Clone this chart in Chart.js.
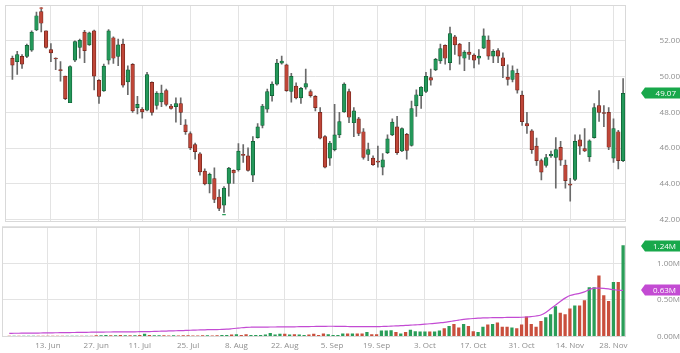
<!DOCTYPE html>
<html>
<head>
<meta charset="utf-8">
<script src="https://cdn.jsdelivr.net/npm/chart.js@4.4.1/dist/chart.umd.min.js"></script>
<style>
  html, body { margin: 0; padding: 0; background: #fff; }
  #wrap { position: relative; width: 680px; height: 353px; }
  canvas { position: absolute; left: 0; }
  #priceCanvas { top: 0; }
  #volCanvas { top: 226px; }
</style>
</head>
<body>
<div id="wrap">
  <canvas id="priceCanvas" width="680" height="227"></canvas>
  <canvas id="volCanvas" width="680" height="127"></canvas>
</div>
<script>
// ---- trading days (Jun 1 - Nov 30) ----
const junDays = [1,2,3,6,7,8,9,10,13,14,15,16,17,20,21,22,23,24,27,28,29,30];
const julDays = [1,5,6,7,8,11,12,13,14,15,18,19,20,21,22,25,26,27,28,29];
const augDays = [1,2,3,4,5,8,9,10,11,12,15,16,17,18,19,22,23,24,25,26,29,30,31];
const sepDays = [1,2,6,7,8,9,12,13,14,15,16,19,20,21,22,23,26,27,28,29,30];
const octDays = [3,4,5,6,7,10,11,12,13,14,17,18,19,20,21,24,25,26,27,28,31];
const novDays = [1,2,3,4,7,8,9,10,11,14,15,16,17,18,21,22,23,25,28,29,30];

// ---- axis ticks ----
const xTickPos = [8, 18, 27, 37, 47, 57, 66.8, 76, 86, 96, 106, 116, 125];
const xTickLabels = ['13. Jun','27. Jun','11. Jul','25. Jul','8. Aug','22. Aug','5. Sep','19. Sep','3. Oct','17. Oct','31. Oct','14. Nov','28. Nov'];
const priceTicks = [42, 44, 46, 48, 50, 52, 54];
const volTicks = [0, 0.5, 1.0, 1.5];

// ---- OHLC ----
const opens = [
  51.03,50.84,51.14,51.14,51.48,52.61,53.64,52.57,51.51,51.03,50.38,50.03,48.54,50.92,51.64,52.50,51.78,52.57,49.80,49.21,
  50.92,52.18,51.14,51.82,49.71,50.69,48.27,48.18,48.12,49.68,48.39,48.59,49.22,48.36,48.32,48.50,47.31,46.82,46.20,45.69,
  44.72,44.00,44.30,43.27,42.81,44.03,44.76,44.79,45.64,45.57,44.49,46.59,47.28,48.18,48.94,49.58,50.76,50.66,49.17,49.47,
  48.81,49.41,49.17,48.90,48.00,46.65,45.44,45.92,46.74,48.03,49.17,47.42,47.64,46.92,45.65,45.44,45.26,44.94,45.75,46.74,
  47.19,45.84,46.77,46.16,48.36,48.94,49.17,49.95,50.38,50.88,51.75,50.79,52.23,51.82,51.03,51.38,51.21,51.03,51.60,52.05,
  51.15,51.46,51.06,49.98,49.84,50.19,48.97,47.37,46.97,46.11,45.30,45.03,45.57,45.48,46.05,45.06,43.97,44.25,46.47,45.98,
  45.51,46.59,48.39,47.98,48.00,45.44,46.92,45.30
];
const highs = [
  51.15,51.42,51.24,51.82,52.56,53.62,53.87,52.57,51.85,51.06,50.84,50.03,50.61,52.00,52.11,52.59,52.50,52.61,49.84,50.70,
  52.63,52.23,52.11,52.11,50.61,50.74,48.90,48.27,50.25,49.71,49.17,49.53,49.30,48.45,48.81,48.81,47.60,46.92,46.29,45.75,
  44.84,44.61,44.90,43.68,43.85,44.93,44.79,46.25,46.20,46.02,46.65,47.37,48.45,49.30,49.71,50.97,51.15,50.70,50.19,49.65,
  49.41,50.43,49.26,48.94,48.27,46.70,46.38,48.45,48.00,49.65,49.30,48.27,47.73,47.10,46.29,45.57,46.11,45.70,46.74,47.64,
  47.78,47.14,46.83,48.63,49.26,49.44,50.25,50.43,51.03,51.82,51.78,52.77,52.32,51.87,51.46,51.92,51.28,51.51,52.68,52.29,
  51.51,51.57,51.33,50.66,50.61,50.43,49.20,48.00,47.04,46.56,45.39,45.66,45.84,46.59,46.38,45.33,44.31,46.74,46.74,47.10,
  46.47,48.50,49.22,48.39,48.27,47.64,47.00,49.90
];
const lows = [
  49.85,50.12,50.46,51.06,51.42,52.57,52.50,51.60,50.84,50.39,49.75,48.72,48.54,50.84,51.03,50.79,51.75,49.26,48.50,49.17,
  50.70,50.74,50.61,49.41,48.99,48.00,47.91,47.68,48.09,47.85,48.18,48.32,48.36,48.18,47.46,47.31,46.77,45.92,45.38,44.49,
  43.95,43.49,42.95,42.50,42.41,43.31,44.03,44.72,45.20,44.72,44.12,46.56,47.14,48.00,48.63,49.53,50.70,49.17,48.57,48.76,
  48.50,49.30,48.86,48.09,46.52,44.90,45.03,45.84,46.59,48.00,47.42,46.65,46.70,45.38,45.30,45.03,44.93,44.50,45.69,46.70,
  45.65,45.80,45.38,46.11,47.78,48.22,49.11,49.53,50.34,50.74,50.70,50.38,51.24,50.70,50.34,50.97,50.49,50.70,51.57,50.97,
  50.79,50.79,49.95,49.53,49.71,49.08,47.28,46.83,45.70,45.03,44.22,44.94,45.48,43.76,45.03,43.76,43.04,44.18,45.65,45.80,
  45.26,46.56,47.49,47.20,45.92,45.20,44.84,45.24
];
const closes = [
  50.65,51.24,50.70,51.75,52.50,53.41,52.99,51.64,51.33,50.99,50.34,48.77,50.56,51.96,52.03,51.46,52.45,50.03,48.90,50.59,
  52.57,51.03,51.78,49.53,50.38,48.09,48.45,48.03,50.12,48.00,49.08,49.08,48.45,48.22,48.50,48.00,46.92,46.01,45.80,44.67,
  44.00,44.54,43.13,42.63,43.76,44.88,44.61,45.84,45.60,44.76,46.38,47.19,48.36,49.17,49.58,50.76,50.88,49.22,50.02,48.81,
  49.35,49.62,48.94,48.27,46.56,44.94,46.29,46.74,47.49,49.58,47.73,48.09,46.83,45.48,45.92,45.08,45.22,45.35,46.52,47.46,
  45.75,47.10,45.87,48.22,48.99,49.41,50.02,49.80,50.97,51.57,51.03,52.41,51.78,51.15,51.38,51.24,50.92,51.15,52.29,51.15,
  51.42,51.15,50.61,49.84,50.34,49.25,47.48,47.24,45.92,45.30,44.66,45.48,45.66,45.92,45.33,44.18,43.93,46.38,46.11,45.84,
  46.41,48.27,48.00,47.94,46.05,47.10,45.30,49.07
];

// period high / low markers
const markerIdx = [6, 44];
const markerVal = [53.84, 42.28];
const markerColor = ['#c9503f', '#2a9d58'];

// ---- volume (millions) and its moving average ----
const volumes = [
  0.006,0.006,0.006,0.006,0.006,0.006,0.006,0.006,0.006,0.006,0.006,0.006,0.006,0.006,0.006,0.006,0.006,0.006,0.015,0.015,
  0.020,0.015,0.015,0.020,0.015,0.015,0.015,0.020,0.035,0.020,0.015,0.015,0.015,0.012,0.015,0.012,0.015,0.015,0.012,0.012,
  0.015,0.015,0.012,0.015,0.020,0.020,0.025,0.030,0.020,0.030,0.020,0.020,0.020,0.025,0.045,0.025,0.035,0.035,0.025,0.030,
  0.025,0.020,0.025,0.035,0.020,0.040,0.030,0.020,0.020,0.040,0.040,0.040,0.040,0.040,0.060,0.030,0.030,0.080,0.080,0.085,
  0.060,0.040,0.060,0.090,0.070,0.065,0.065,0.065,0.065,0.080,0.110,0.140,0.170,0.120,0.170,0.140,0.070,0.060,0.130,0.160,
  0.170,0.190,0.130,0.130,0.120,0.110,0.160,0.270,0.170,0.130,0.210,0.260,0.300,0.410,0.320,0.300,0.380,0.420,0.420,0.490,
  0.670,0.670,0.830,0.560,0.480,0.740,0.740,1.240
];
const volumeMA = [
  0.046,0.047,0.047,0.048,0.048,0.049,0.050,0.051,0.052,0.053,0.054,0.055,0.056,0.057,0.058,0.059,0.060,0.061,0.062,0.063,
  0.064,0.064,0.065,0.066,0.066,0.067,0.067,0.068,0.069,0.070,0.072,0.074,0.076,0.078,0.080,0.082,0.084,0.087,0.089,0.091,
  0.093,0.095,0.096,0.097,0.099,0.102,0.108,0.115,0.122,0.127,0.129,0.130,0.131,0.131,0.132,0.132,0.133,0.133,0.134,0.135,
  0.136,0.137,0.138,0.139,0.140,0.141,0.142,0.142,0.141,0.140,0.139,0.138,0.138,0.137,0.137,0.137,0.137,0.139,0.141,0.144,
  0.147,0.150,0.153,0.157,0.161,0.165,0.170,0.176,0.182,0.189,0.196,0.205,0.215,0.226,0.236,0.243,0.248,0.252,0.255,0.257,
  0.259,0.260,0.261,0.262,0.263,0.264,0.265,0.268,0.274,0.282,0.296,0.330,0.380,0.430,0.480,0.525,0.560,0.578,0.590,0.610,
  0.640,0.660,0.662,0.658,0.650,0.640,0.632,0.630
];

const dates = [];
[[6, junDays], [7, julDays], [8, augDays], [9, sepDays], [10, octDays], [11, novDays]].forEach(([m, days]) => {
  days.forEach(d => dates.push(`2022-${String(m).padStart(2, '0')}-${String(d).padStart(2, '0')}`));
});

const UP = '#24985a', UP_EDGE = '#0f5a31';
const DOWN = '#bf4638', DOWN_EDGE = '#6d2219';
const VOL_UP = '#2a9d58', VOL_DOWN = '#c94f3d';
const MA_COLOR = '#c34bd3';
const GRID = '#e3e3e3';
const FONT = { family: "'Open Sans', sans-serif", size: 8 };
const LABEL_COLOR = '#8e8e8e';

const isUp = dates.map((_, i) => closes[i] >= opens[i]);

// width of a label, so the y labels can sit right-aligned at the edge
function textWidth(str) {
  const c = document.createElement('canvas').getContext('2d');
  c.font = `${FONT.size}px ${FONT.family}`;
  return c.measureText(str).width;
}
const AXIS_W = 54;

// panel frame + value tags on the right
const framePlugin = {
  id: 'frame',
  afterDraw(chart, args, opts) {
    const { ctx, chartArea: a } = chart;
    ctx.save();
    ctx.strokeStyle = '#d9d9d9';
    ctx.lineWidth = 1;
    ctx.strokeRect(Math.round(a.left) + 0.5, Math.round(a.top) + 0.5, Math.round(a.right - a.left) - 1, Math.round(a.bottom - a.top) - 1);
    const y = chart.scales.y;
    (opts.tags || []).forEach(t => {
      const py = Math.round(y.getPixelForValue(t.value));
      const x0 = a.right + 15, x1 = chart.width, h = 5.5;
      ctx.fillStyle = t.color;
      ctx.beginPath();
      ctx.moveTo(x0, py);
      ctx.lineTo(x0 + 4, py - h);
      ctx.lineTo(x1, py - h);
      ctx.lineTo(x1, py + h);
      ctx.lineTo(x0 + 4, py + h);
      ctx.closePath();
      ctx.fill();
      ctx.fillStyle = '#fff';
      ctx.font = `${FONT.size}px ${FONT.family}`;
      ctx.textAlign = 'right';
      ctx.textBaseline = 'middle';
      ctx.fillText(t.text, x1 - 4, py + 0.5);
    });
    ctx.restore();
  }
};

function xScale(showLabels) {
  return {
    type: 'linear',
    min: -1.5,
    max: 127.6,
    offset: false,
    afterBuildTicks: s => { s.ticks = xTickPos.map(v => ({ value: v })); },
    afterFit: s => { s.height = showLabels ? 16.3 : 0; s.paddingLeft = 0; s.paddingRight = 0; },
    grid: { color: GRID, drawTicks: false, offset: false },
    border: { display: false },
    ticks: {
      display: showLabels,
      autoSkip: false,
      maxRotation: 0,
      padding: 4,
      color: LABEL_COLOR,
      font: FONT,
      callback: (v, i) => xTickLabels[i]
    }
  };
}

function yFit(s) {
  s.width = AXIS_W;
  s.paddingTop = 0;
  s.paddingBottom = 0;
}

// ---------------- price chart ----------------
const priceLabelW = textWidth('52.00');
new Chart(document.getElementById('priceCanvas'), {
  type: 'bar',
  data: {
    datasets: [
      {
        type: 'scatter',
        label: 'High/Low',
        data: markerIdx.map((x, k) => ({ x: x, y: markerVal[k] })),
        pointStyle: 'line',
        pointRadius: 1.8,
        borderWidth: 1.2,
        borderColor: markerColor,
        order: 0
      },
      {
        label: 'Wick',
        data: dates.map((d, i) => ({ x: i, y: [lows[i], highs[i]] })),
        backgroundColor: '#6a6a6a',
        barThickness: 1,
        grouped: false,
        order: 2
      },
      {
        label: 'Body',
        data: dates.map((d, i) => ({ x: i, y: [opens[i], closes[i]] })),
        backgroundColor: isUp.map(u => u ? UP : DOWN),
        borderColor: isUp.map(u => u ? UP_EDGE : DOWN_EDGE),
        borderWidth: 0.7,
        borderSkipped: false,
        barThickness: 3.6,
        minBarLength: 1,
        grouped: false,
        order: 1
      }
    ]
  },
  options: {
    responsive: false,
    animation: false,
    devicePixelRatio: 1,
    layout: { padding: { top: 2, left: 2, right: 0, bottom: 0.5 } },
    plugins: {
      legend: { display: false },
      tooltip: { enabled: false },
      frame: { tags: [{ value: closes[closes.length - 1], text: closes[closes.length - 1].toFixed(2), color: '#18a84b' }] }
    },
    scales: {
      x: xScale(false),
      y: {
        position: 'right',
        min: 41.88,
        max: 54,
        afterBuildTicks: s => { s.ticks = priceTicks.map(v => ({ value: v })); },
        afterFit: yFit,
        grid: { color: GRID, drawTicks: false },
        border: { display: false },
        ticks: {
          crossAlign: 'far',
          padding: AXIS_W - 4 - priceLabelW,
          color: LABEL_COLOR,
          font: FONT,
          callback: v => v === 54 ? '' : v.toFixed(2)
        }
      }
    }
  },
  plugins: [framePlugin]
});

// ---------------- volume chart ----------------
const volLabelW = textWidth('0.00M');
const lastVol = volumes[volumes.length - 1];
const lastMA = volumeMA[volumeMA.length - 1];
new Chart(document.getElementById('volCanvas'), {
  type: 'bar',
  data: {
    datasets: [
      {
        type: 'line',
        label: 'Volume MA',
        data: dates.map((d, i) => ({ x: i, y: volumeMA[i] })),
        borderColor: MA_COLOR,
        borderWidth: 1.2,
        pointRadius: 0,
        tension: 0.3,
        order: 1
      },
      {
        label: 'Volume',
        data: dates.map((d, i) => ({ x: i, y: volumes[i] })),
        backgroundColor: isUp.map(u => u ? VOL_UP : VOL_DOWN),
        barThickness: 2.6,
        grouped: false,
        order: 2
      }
    ]
  },
  options: {
    responsive: false,
    animation: false,
    devicePixelRatio: 1,
    layout: { padding: { top: 0.5, left: 2, right: 0, bottom: 0 } },
    plugins: {
      legend: { display: false },
      tooltip: { enabled: false },
      frame: {
        tags: [
          { value: lastVol, text: lastVol.toFixed(2) + 'M', color: '#18a84b' },
          { value: lastMA, text: lastMA.toFixed(2) + 'M', color: MA_COLOR }
        ]
      }
    },
    scales: {
      x: xScale(true),
      y: {
        position: 'right',
        min: 0,
        max: 1.5,
        afterBuildTicks: s => { s.ticks = volTicks.map(v => ({ value: v })); },
        afterFit: yFit,
        grid: { color: GRID, drawTicks: false },
        border: { display: false },
        ticks: {
          crossAlign: 'far',
          padding: AXIS_W - 4 - volLabelW,
          color: LABEL_COLOR,
          font: FONT,
          callback: v => v === 1.5 ? '' : v.toFixed(2) + 'M'
        }
      }
    }
  },
  plugins: [framePlugin]
});
</script>
</body>
</html>
